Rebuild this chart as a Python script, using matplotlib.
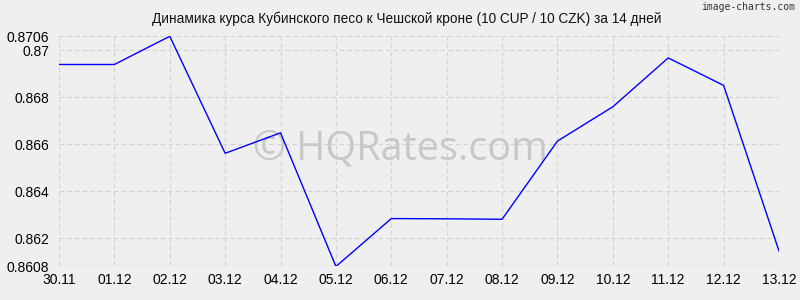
import matplotlib
matplotlib.use('Agg')
import matplotlib.pyplot as plt

dates = ['30.11', '01.12', '02.12', '03.12', '04.12', '05.12', '06.12',
         '07.12', '08.12', '09.12', '10.12', '11.12', '12.12', '13.12']
rates = [0.86940, 0.86940, 0.87060, 0.86562, 0.86649, 0.86080, 0.86284,
         0.86283, 0.86281, 0.86614, 0.86760, 0.86968, 0.86851, 0.86146]
y_ticks = [0.8608, 0.862, 0.864, 0.866, 0.868, 0.87, 0.8706]
y_labels = ['0.8608', '0.862', '0.864', '0.866', '0.868', '0.87', '0.8706']

plt.rcParams['font.family'] = ['Liberation Sans', 'DejaVu Sans']
bg = '#efefef'

fig = plt.figure(figsize=(8, 3), dpi=100, facecolor=bg)
ax = fig.add_axes([0.07375, 0.1117, 0.9, 0.7673], facecolor=bg)

x = list(range(len(dates)))
ax.plot(x, rates, color='#0000ff', linewidth=1, zorder=3)

ax.set_xlim(0, len(dates) - 1)
ax.set_ylim(y_ticks[0], y_ticks[-1])
ax.set_xticks(x)
ax.set_xticklabels(dates, fontsize=10)
ax.set_yticks(y_ticks)
ax.set_yticklabels(y_labels, fontsize=10)
ax.tick_params(length=0, colors='#000000')
ax.tick_params(axis='y', pad=7)
ax.tick_params(axis='x', pad=5)
ax.grid(True, color='#d2d2d2', linestyle=(0, (4, 3)), linewidth=0.8, zorder=0)
ax.set_axisbelow(True)
for s in ax.spines.values():
    s.set_visible(False)
ax.axhline(y_ticks[0], color='#c8c8c8', linewidth=1, zorder=2)

# watermark sits under the line
ax.text(0.474, 0.51, '© HQRates.com', fontsize=28.5, color='#c8c8c8',
        family=['Open Sans', 'DejaVu Sans'], ha='center', va='center',
        transform=ax.transAxes, zorder=1)

fig.text(0.508, 0.938, 'Динамика курса Кубинского песо к Чешской кроне (10 CUP / 10 CZK) за 14 дней',
         fontsize=9.8, ha='center', va='center', color='#111111')
fig.text(0.994, 0.975, 'image-charts.com', fontsize=7, color='#333333',
         family='DejaVu Sans Mono', ha='right', va='center')

fig.savefig('out.png', dpi=100, facecolor=bg)
